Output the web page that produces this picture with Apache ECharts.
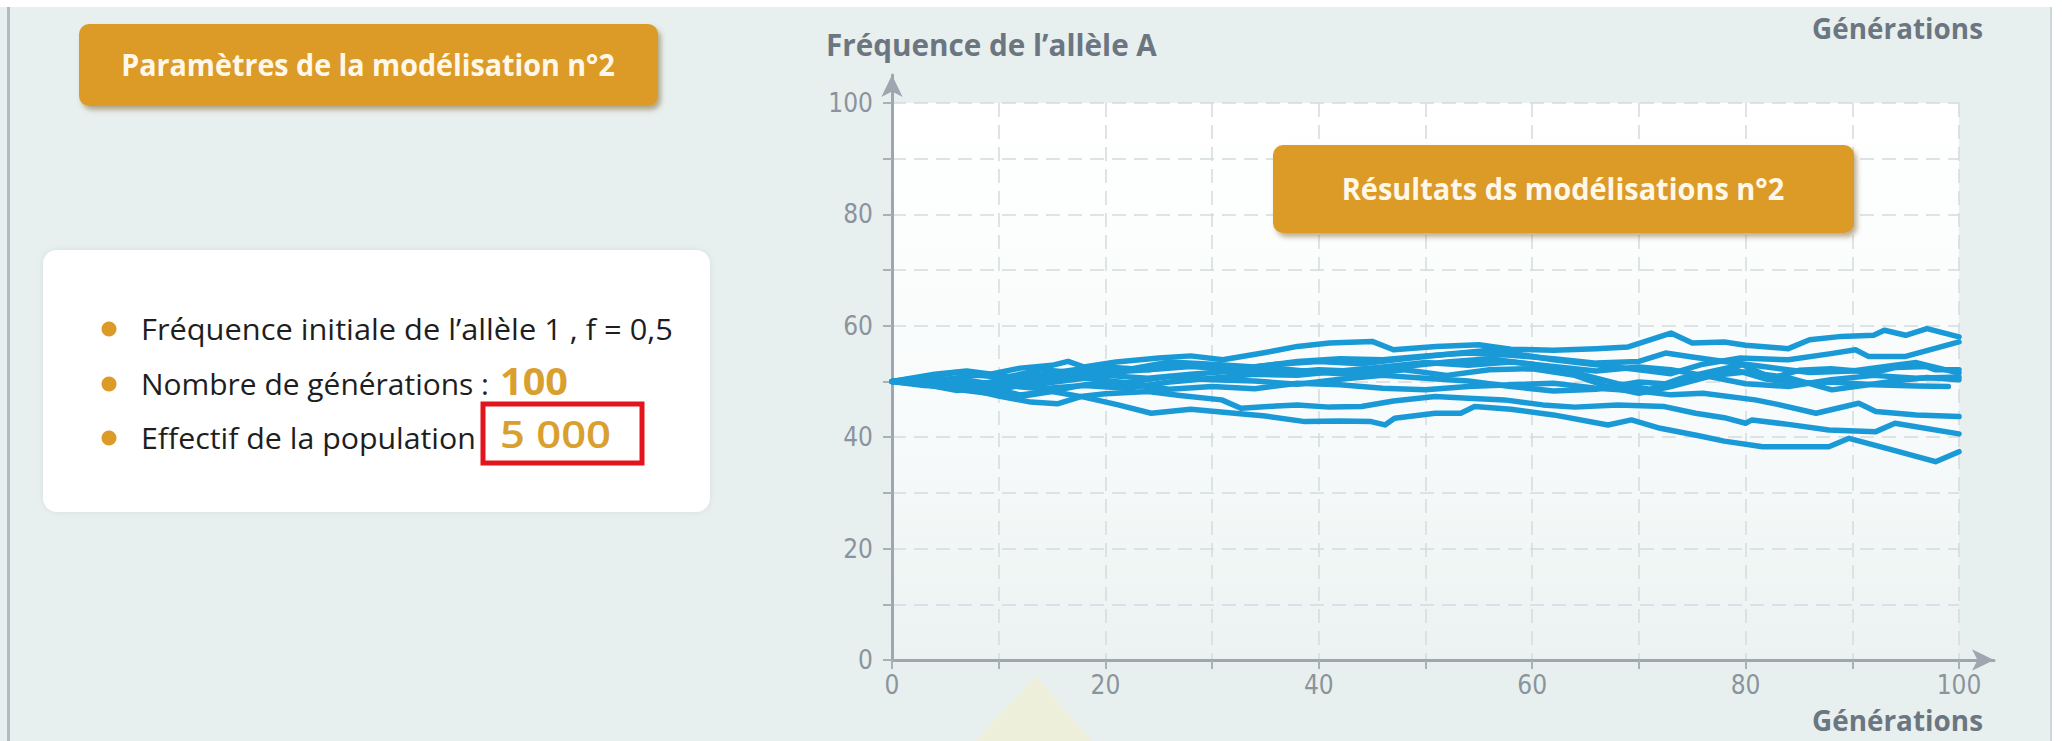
<!DOCTYPE html>
<html>
<head>
<meta charset="utf-8">
<script src="https://cdn.jsdelivr.net/npm/echarts@6/dist/echarts.min.js"></script>
<style>
  html, body { margin: 0; padding: 0; background: #ffffff; }
  #chart { width: 2062px; height: 741px; }
</style>
</head>
<body>
<div id="chart"></div>
<script>
// Fréquence de l'allèle A (%) au fil des générations, 10 simulations (N = 5 000)
const run1 = [[0,50],[3,50.8],[6,51.6],[9,51.2],[12,52.4],[15,52.9],[16.5,53.6],[18,52.6],[21,53.5],[25,54.2],[28,54.6],[31,53.9],[35,55.2],[38,56.3],[41,56.9],[45,57.2],[47,55.7],[51,56.3],[55,56.6],[58,55.8],[62,55.6],[66,55.9],[69,56.2],[73,58.7],[75,56.9],[78,57.1],[80,56.5],[84,55.9],[86,57.5],[89,58.1],[92,58.3],[93,59.2],[95,58.3],[97,59.5],[100,58]];
const run2 = [[0,50],[4,50.6],[8,49.6],[12,50.3],[16,51.1],[20,51.6],[24,52.1],[28,52.7],[32,52.2],[36,53.1],[40,53.6],[44,53.2],[48,54.1],[52,54.9],[56,55.6],[58,55.1],[62,53.9],[66,53],[70,52.1],[73,51.4],[76,53.1],[79.4,54.2],[84,53.9],[88,55],[90.3,55.7],[91.5,54.5],[95,54.5],[100,57.1]];
const run3 = [[0,50],[3,50.5],[7,49.2],[10,48.6],[13,49.6],[17,50.6],[20,51.1],[24,50.6],[28,51.3],[32,51.9],[36,51.5],[40,52.1],[44,51.8],[48,52.7],[52,53.5],[56,54.1],[60,53.1],[64,51.6],[68,49.6],[71,48.6],[74,50.6],[77,51.9],[79.7,53],[82.5,50.6],[85,52],[88,52.3],[92,51.6],[94,52.5],[96.9,52.7],[97.8,52.1],[100,52.1]];
const run4 = [[0,50],[3,49.3],[6,49],[10,50.1],[14,49.6],[18,50.6],[22,49.8],[26,50.9],[30,50.3],[34,50.1],[38,49.5],[42,50.4],[46,51.1],[50,50.6],[54,50.1],[58,49.1],[62,48.3],[66,48.6],[70,49.9],[73,49.5],[76,50.9],[80,51.7],[84,50.7],[88.1,48.5],[90.3,49.1],[94,50.1],[97,50.7],[100,50.3]];
const run5 = [[0,50],[4,51.3],[7,51.9],[11,50.9],[14,52.1],[17,51.6],[20,52.6],[24,52.1],[28,53.1],[32,52.6],[36,52.4],[40,51.6],[44,51.2],[48,52.1],[52,51.1],[56,52.1],[60,52.3],[64,51.1],[67,49.1],[70,47.9],[73,49.1],[76,50.6],[79,52.1],[82,50.4],[85,49.7],[88,49.9],[92,49.4],[96,49.2],[99,49.1]];
const run6 = [[0,50],[3,49.5],[6,48.4],[9,48.9],[12,47.6],[15,48.3],[18,49.4],[22,49.6],[26,48.6],[30,49.1],[34,48.7],[38,49.7],[42,49.4],[46,48.8],[50,48.5],[54,49.1],[58,49.4],[62,49.7],[66,48.8],[70,48.3],[73,47.6],[76,47.9],[80.9,46.7],[83,45.9],[86.6,44.3],[90.6,46.1],[92.2,44.6],[96,44],[100,43.7]];
const run7 = [[0,50],[3,49.7],[6,49.2],[10,47.4],[13,46.3],[15.5,46],[17.7,47.3],[20,47.8],[24,48.2],[27,47.5],[30.9,46.7],[32.7,45.2],[36,45.6],[38,45.8],[41,45.4],[44,45.5],[47,46.5],[50.9,47.3],[54,47],[57.4,46.7],[61,45.8],[64,45.4],[68,45.8],[72.4,45.5],[75.3,44.3],[78,43.5],[80,42.5],[80.6,43.1],[84,42.3],[87.8,41.3],[92.2,41],[94,42.5],[100,40.6]];
const run8 = [[0,50],[3,49.5],[6,48.6],[9,47.9],[12,47.3],[15,48.2],[18,47.2],[21.2,45.8],[24.3,44.3],[28,45],[32.1,44.3],[35,43.8],[38.7,42.8],[42,42.9],[44.9,42.8],[46.2,42.2],[47.1,43.4],[50.9,44.3],[53.3,44.3],[54.6,45.5],[58,45],[62,44],[67.1,42.2],[69.3,43.1],[72,41.6],[75.5,40.3],[78,39.3],[81.6,38.3],[87.8,38.3],[89.7,39.8],[94,37.6],[97.8,35.6],[100,37.4]];
const run9 = [[0,50],[4,50.2],[8,51.1],[12,50.5],[16,51.8],[19,52.6],[22,52.1],[26,53.5],[30,53.1],[34,52.6],[38,53.6],[42,54.1],[46,53.9],[50,54.6],[54,55.1],[58,54.7],[62,54.1],[66,53.3],[70,53.6],[72.5,55.1],[75,54.4],[78,53.6],[82,52.6],[86,51.6],[90,51.9],[94,52.9],[96,53.4],[100,51.5]];
const run10 = [[0,50],[3,50.6],[7,50.2],[10,49.4],[14,48.7],[18,49.3],[22,48.8],[26,49.9],[30,50.6],[34,51.3],[38,51.1],[42,51.9],[46,52.6],[50,53.4],[54,52.9],[58,53.5],[62,52.7],[66,51.9],[70,52.6],[73,52.1],[76,51.1],[80,49.6],[84,49.1],[88,50.3],[92,51.1],[96,50.6],[100,50.8]];
const runs = [run1, run2, run3, run4, run5, run6, run7, run8, run9, run10];

// Axis labels
const xTickLabels = [0, 20, 40, 60, 80, 100];
const yTickLabels = [0, 20, 40, 60, 80, 100];
const xName = 'Générations';
const yName = 'Fréquence de l’allèle A';

// Texts of the parameter panel
const panelTitle = 'Paramètres de la modélisation n°2';
const resultTitle = 'Résultats ds modélisations n°2';
const paramLines = ['Fréquence initiale de l’allèle 1 , f = 0,5', 'Nombre de générations :', 'Effectif de la population'];
const paramValues = ['', '100', '5 000'];

const ORANGE = '#dc9b28';
const LINE_BLUE = '#1a99d7';
const AXIS_GREY = '#9ea7b0';
const LABEL_GREY = '#8b949c';
const BASE_FONT = "'Open Sans', 'Noto Sans', sans-serif";
const LABEL_FONT = "'Liberation Sans Narrow', 'DejaVu Sans Condensed', Roboto, sans-serif";

// horizontal squeeze so that a humanist face reads like a condensed one
const measureCtx = document.createElement('canvas').getContext('2d');
function squeeze(text, font, width) {
  measureCtx.font = font;
  return width / measureCtx.measureText(text).width;
}
function squeezedText(text, x, y, width, size, weight, color, align) {
  const font = weight + ' ' + size + 'px ' + BASE_FONT;
  return {
    type: 'text', x: x, y: y, scaleX: squeeze(text, font, width), z: 10,
    style: { text: text, font: font, fill: color, align: align || 'left', verticalAlign: 'middle' }
  };
}

const chart = echarts.init(document.getElementById('chart'), null, { renderer: 'svg' });

const labelStyle = {
  color: LABEL_GREY, fontSize: 26, fontFamily: LABEL_FONT, fontWeight: 'normal'
};

function xLabel(v) { return xTickLabels.indexOf(v) >= 0 ? String(v) : ''; }
function yLabel(v) { return yTickLabels.indexOf(v) >= 0 ? String(v) : ''; }

const dash = { type: [14, 8], color: '#d5dade', width: 1.5 };

const option = {
  backgroundColor: '#e8f0ef',
  animation: false,
  grid: [
    // plotting area
    { left: 892, right: 103, top: 103, bottom: 81, show: true, borderWidth: 0, outerBoundsMode: 'none',
      backgroundColor: new echarts.graphic.LinearGradient(0, 0, 0, 1, [
        { offset: 0, color: '#ffffff' }, { offset: 0.55, color: '#f8fbfb' }, { offset: 1, color: '#ecf2f1' }
      ]) },
    // axes with arrow heads, running past the plotting area
    { left: 892, right: 68, top: 75, bottom: 81, outerBoundsMode: 'none' },
    // bottom of the previous figure, cut by the top edge
    { left: 892, right: 103, top: -300, bottom: 776, outerBoundsMode: 'none' }
  ],
  xAxis: [
    { gridIndex: 0, type: 'value', min: 0, max: 100, interval: 10,
      axisLine: { show: false },
      axisTick: { show: true, length: 9, lineStyle: { color: '#a9b1b8', width: 2 } },
      axisLabel: Object.assign({ margin: 12, formatter: xLabel }, labelStyle),
      splitLine: { show: true, lineStyle: dash } },
    { gridIndex: 1, type: 'value', min: 0, max: 1,
      axisLine: { show: true, symbol: ['none', 'arrow'], symbolSize: [16, 22], lineStyle: { color: AXIS_GREY, width: 3 } },
      axisTick: { show: false }, axisLabel: { show: false }, splitLine: { show: false } },
    { gridIndex: 2, type: 'value', min: 0, max: 100, interval: 10,
      axisLine: { show: false }, axisTick: { show: false },
      axisLabel: Object.assign({ margin: 12, formatter: xLabel }, labelStyle),
      splitLine: { show: false } }
  ],
  yAxis: [
    { gridIndex: 0, type: 'value', min: 0, max: 100, interval: 10,
      axisLine: { show: false },
      axisTick: { show: true, length: 9, lineStyle: { color: '#a9b1b8', width: 2 } },
      axisLabel: Object.assign({ margin: 19, formatter: yLabel }, labelStyle),
      splitLine: { show: true, lineStyle: dash } },
    { gridIndex: 1, type: 'value', min: 0, max: 1,
      axisLine: { show: true, symbol: ['none', 'arrow'], symbolSize: [16, 22], lineStyle: { color: AXIS_GREY, width: 3 } },
      axisTick: { show: false }, axisLabel: { show: false }, splitLine: { show: false } },
    { gridIndex: 2, type: 'value', show: false, min: 0, max: 100 }
  ],
  series: runs.map(function (r, i) {
    return {
      name: 'Simulation ' + (i + 1), type: 'line', xAxisIndex: 0, yAxisIndex: 0,
      data: r, symbol: 'none', smooth: false, z: 3,
      lineStyle: { color: LINE_BLUE, width: 5.5, join: 'round', cap: 'round' }
    };
  }),
  graphic: { elements: [] }
};

const g = option.graphic.elements;
// page frame
g.push({ type: 'rect', shape: { x: 0, y: 0, width: 2062, height: 7 }, style: { fill: '#ffffff' }, z: -5 });
g.push({ type: 'rect', shape: { x: 7, y: 7, width: 3, height: 734 }, style: { fill: '#b3bbc1' }, z: -4 });
g.push({ type: 'rect', shape: { x: 2051, y: 7, width: 11, height: 734 }, style: { fill: '#ffffff' }, z: -4 });
g.push({ type: 'rect', shape: { x: 2050, y: 7, width: 2, height: 734 }, style: { fill: '#cfd6d9' }, z: -4 });
// faint highlight below the axis
g.push({ type: 'polygon', shape: { points: [[1036, 676], [975, 741], [1092, 741]] }, style: { fill: 'rgba(255,236,170,0.28)' }, z: -3 });

// title of the previous figure's axis, cut by the top edge
g.push(squeezedText(xName, 1983, 28, 171, 29, 'bold', '#6c7681', 'right'));

// parameter button
g.push({ type: 'rect', shape: { x: 79, y: 24, width: 579, height: 82, r: 10 },
  style: { fill: ORANGE, shadowBlur: 5, shadowOffsetX: 3, shadowOffsetY: 4, shadowColor: 'rgba(110,80,30,0.45)' }, z: 5 });
g.push(squeezedText(panelTitle, 368, 65, 494, 30, 'bold', '#fff8ea', 'center'));

// parameter card
g.push({ type: 'rect', shape: { x: 43, y: 250, width: 667, height: 262, r: 14 },
  style: { fill: '#ffffff', shadowBlur: 6, shadowColor: 'rgba(150,170,170,0.25)' }, z: 5 });
const rowY = [329, 384, 438];
const rowWidth = [532, 348, 335];
rowY.forEach(function (y, i) {
  g.push({ type: 'circle', shape: { cx: 109, cy: y, r: 7.5 }, style: { fill: ORANGE }, z: 6 });
  g.push(squeezedText(paramLines[i], 141, y, rowWidth[i], 29, 'normal', '#1e1e1e', 'left'));
});
g.push(squeezedText(paramValues[1], 500, 380, 68, 38, 'bold', '#d9a030', 'left'));
g.push(squeezedText(paramValues[2], 500, 434, 111, 37, '600', '#d9a030', 'left'));
g.push({ type: 'rect', shape: { x: 483, y: 404, width: 159, height: 59 },
  style: { fill: 'none', stroke: '#e3141c', lineWidth: 5 }, z: 8 });

// axis names
g.push(squeezedText(yName, 826, 44, 331, 30, 'bold', '#6c7681', 'left'));
g.push(squeezedText(xName, 1983, 720, 171, 28, 'bold', '#6c7681', 'right'));

// results button
g.push({ type: 'rect', shape: { x: 1273, y: 145, width: 581, height: 88, r: 10 },
  style: { fill: ORANGE, shadowBlur: 5, shadowOffsetX: 3, shadowOffsetY: 4, shadowColor: 'rgba(110,80,30,0.45)' }, z: 5 });
g.push(squeezedText(resultTitle, 1563, 189, 443, 30, 'bold', '#fff8ea', 'center'));

chart.setOption(option);
</script>
</body>
</html>
